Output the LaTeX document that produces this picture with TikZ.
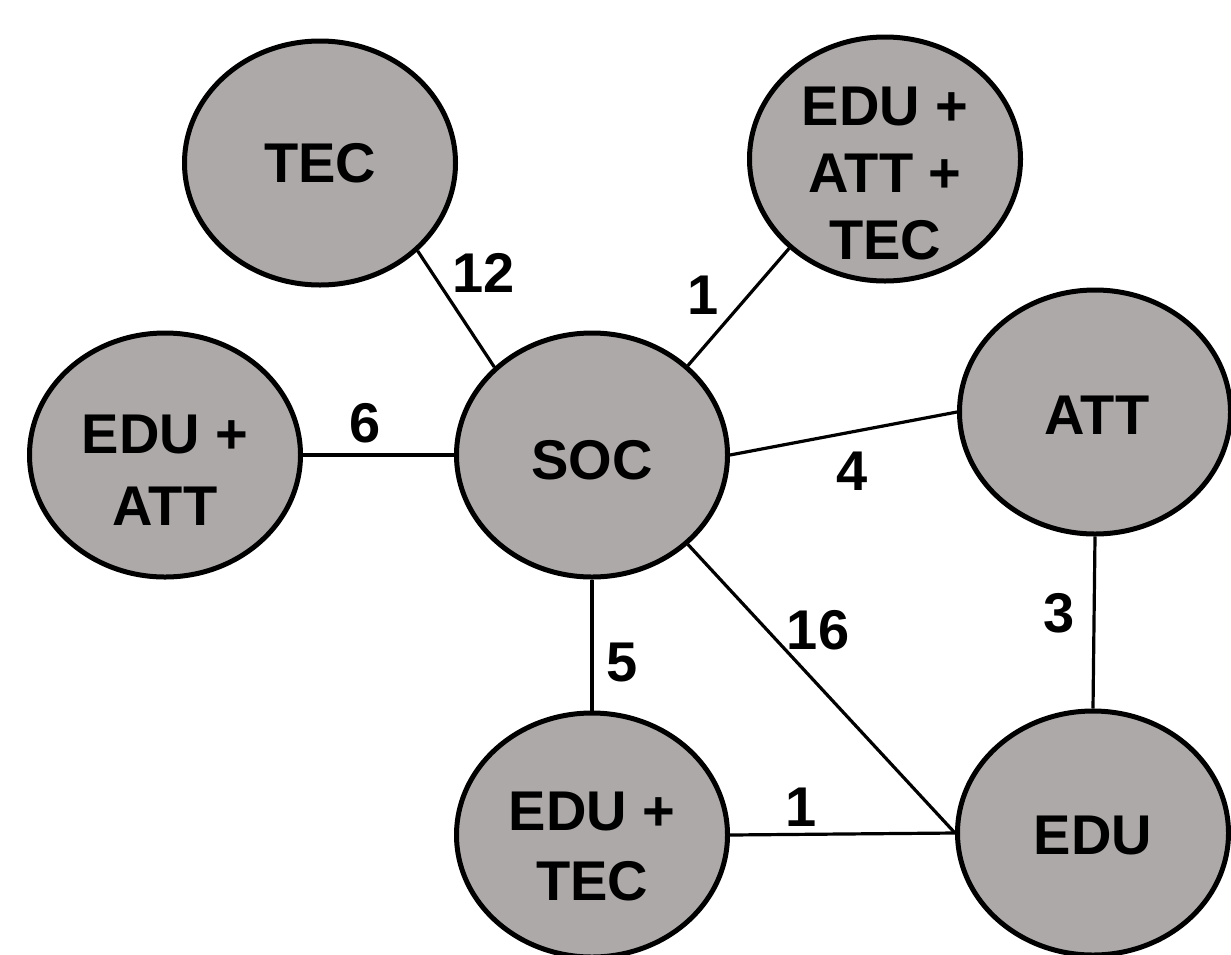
\documentclass[tikz,border=0pt]{standalone}
\usepackage{fontspec}
\setmainfont{Liberation Sans}
\usetikzlibrary{shapes.geometric,calc}
\definecolor{nodegray}{RGB}{173,169,169}
\begin{document}
\begin{tikzpicture}[x=1pt,y=-1pt,
  ell/.style={ellipse,draw=black,fill=nodegray,line width=5pt,
    minimum width=271pt,minimum height=244pt,inner sep=0pt},
  txt/.style={inner sep=0pt,align=center,font=\fontsize{56}{70}\selectfont\bfseries},
  num/.style={inner sep=0pt,font=\fontsize{56}{68}\selectfont\bfseries},
  conn/.style={line width=3.2pt,black}]
\useasboundingbox (0,0) rectangle (1231,954);
\clip (0,0) rectangle (1231,954);
% ellipses
\node[ell] (tec) at (320,163) {};
\node[ell] (eat) at (885,159) {};
\node[ell] (ea) at (165,455) {};
\node[ell] (soc) at (592,455) {};
\node[ell] (att) at (1095,412) {};
\node[ell] (et) at (592,835) {};
\node[ell] (edu) at (1093,833) {};
% connectors
\draw[conn] (tec.-42) -- (soc.138);
\draw[conn] (soc.43) -- (eat.-137);
\draw[conn] (ea.east) -- (soc.west);
\draw[conn] (soc.east) -- (att.west);
\draw[conn] (soc.south) -- (et.north);
\draw[conn] (soc.-43) -- (edu.west);
\draw[conn] (att.south) -- (edu.north);
\draw[conn] (et.east) -- (edu.west);
% node texts
\node[txt] (tec-t) at (320,163) {TEC};
\node[txt,font=\fontsize{56}{67}\selectfont\bfseries] (eat-t) at (885,174) {EDU +\\ATT +\\TEC};
\node[txt,font=\fontsize{56}{72}\selectfont\bfseries] (ea-t) at (165,470) {EDU +\\ATT};
\node[txt] (soc-t) at (592,460) {SOC};
\node[txt] (att-t) at (1097,415) {ATT};
\node[txt] (et-t) at (592,846) {EDU +\\TEC};
\node[txt] (edu-t) at (1093,835) {EDU};
% edge labels
\node[num] (l12) at (484,273) {12};
\node[num] (l1a) at (703,295) {1};
\node[num] (l6) at (365,423) {6};
\node[num] (l4) at (852,471) {4};
\node[num] (l5) at (622,662) {5};
\node[num] (l16) at (818,630) {16};
\node[num] (l3) at (1059,613) {3};
\node[num] (l1b) at (801,807) {1};
\end{tikzpicture}
\end{document}
